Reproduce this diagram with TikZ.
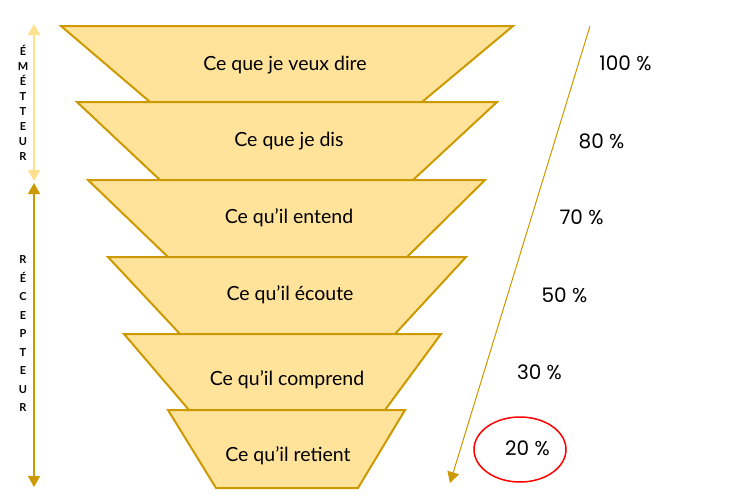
\documentclass[tikz,border=0pt]{standalone}
\usepackage{fontspec}
\setmainfont{Lato}
\newfontfamily\pctfont{Poppins}
\usetikzlibrary{arrows.meta, shapes.geometric}
\definecolor{funnel_fill}{HTML}{FFE39A}
\definecolor{funnel_line}{HTML}{CC9A00}
\definecolor{sender_gold}{HTML}{FFE08C}

\begin{document}
\begin{tikzpicture}[x=1pt, y=-1pt]
	\tikzset{
		layer/.style={draw=funnel_line, fill=funnel_fill, line width=2pt}, % one slice of the funnel
		layertext/.style={font=\fontsize{19.5}{22}\selectfont, anchor=base},
		pct/.style={font=\pctfont\fontsize{20}{24}\selectfont, anchor=base},
		side/.style={font=\bfseries\fontsize{10.5}{15}\selectfont, align=center},
		tip/.style={>={Triangle[width=12pt,length=11pt]}},
	}
	\useasboundingbox (0,0) rectangle (742,501);

	% funnel, from top to bottom
	\draw[layer] (61,26) -- (513,26) -- (422,102) -- (150,102) -- cycle;
	\node[layertext] (l0) at (285,70) {Ce que je veux dire};
	\draw[layer] (77,102) -- (497,102) -- (413,180) -- (160,180) -- cycle;
	\node[layertext] (l1) at (289,146.5) {Ce que je dis};
	\draw[layer] (88,180) -- (485,180) -- (407,257) -- (168,257) -- cycle;
	\node[layertext] (l2) at (289,223) {Ce qu'il entend};
	\draw[layer] (108,257) -- (466,257) -- (395,334) -- (180,334) -- cycle;
	\node[layertext] (l3) at (290,300) {Ce qu'il écoute};
	\draw[layer] (124,334) -- (441,334) -- (385,410) -- (189,410) -- cycle;
	\node[layertext] (l4) at (287,385) {Ce qu'il comprend};
	\draw[layer] (168,410) -- (405,410) -- (358,488) -- (216,488) -- cycle;
	\node[layertext] (l5) at (288,461.5) {Ce qu'il retient};

	% percentages
	\node[pct] (p0) at (625.5,70) {100 \%};
	\node[pct] (p1) at (601.5,148) {80 \%};
	\node[pct] (p2) at (581.5,224) {70 \%};
	\node[pct] (p3) at (564.5,302) {50 \%};
	\node[pct] (p4) at (539.5,379) {30 \%};
	\node[pct] (p5) at (527.5,455) {20 \%};
	\node[draw=red, ellipse, line width=1.5pt, minimum width=92pt, minimum height=65pt] (ring) at (520,449.5) {};

	% loss arrow
	\coordinate (loss_top) at (590,26);
	\coordinate (loss_end) at (450,483);
	\draw[tip, ->, draw=funnel_line, fill=funnel_line, line width=1pt] (loss_top) -- (loss_end);

	% sender and receiver
	\coordinate (e_top) at (34,24);
	\coordinate (e_bot) at (34,181);
	\coordinate (r_top) at (34,183);
	\coordinate (r_bot) at (34,487);
	\draw[tip, <->, draw=sender_gold, fill=sender_gold, line width=1.5pt] (e_top) -- (e_bot);
	\draw[tip, <->, draw=funnel_line, fill=funnel_line, line width=1.5pt] (r_top) -- (r_bot);
	\node[side, font=\bfseries\fontsize{11}{15.1}\selectfont] (sender) at (23,103) {É\\M\\É\\T\\T\\E\\U\\R};
	\node[side, font=\bfseries\fontsize{11}{18.5}\selectfont] (receiver) at (23,334) {R\\É\\C\\E\\P\\T\\E\\U\\R};
\end{tikzpicture}
\end{document}
